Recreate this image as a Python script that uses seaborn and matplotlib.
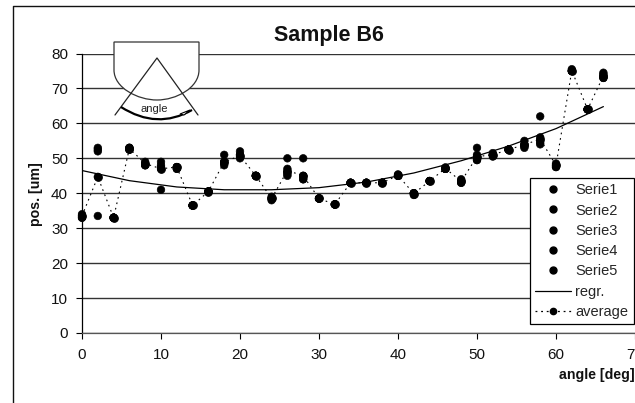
import numpy as np
import pandas as pd
import seaborn as sns
import matplotlib
matplotlib.use("Agg")
import matplotlib.pyplot as plt
from matplotlib.lines import Line2D
from matplotlib.patches import Polygon, PathPatch
from matplotlib.path import Path

sns.set_theme(style="white")
plt.rcParams['font.family'] = ['Liberation Sans', 'DejaVu Sans']

angle = [0,2,4,6,8,10,12,14,16,18,20,22,24,26,28,30,32,34,36,38,40,42,44,46,48,50,52,54,56,58,60,62,64,66]
serie1 = [33,52,33,53,48,41,47,36.5,40.5,48,50,45,38,45,44,38.5,36.8,43,43,43,45,39.5,43.5,47,43,49.5,50.5,52.5,53,62,47.5,75,64,73]
serie2 = [33.5,53,33,52.5,48.5,47,47.5,36.5,40.5,49,51,45,38.5,46,45,38.5,36.8,43,43,43,45,40,43.5,47,43.5,50.5,51,52.5,54,56,48,75.5,64,74]
serie3 = [34,52.5,33,53,49,48,47.5,36.5,40.5,51,52,45,39,47,50,38.5,36.8,43,43,43,45.4,40,43.5,47.4,44,51,51.5,52.5,55,54,48.5,75,64,74.5]
serie4 = [33.5,33.5,33,52.5,48,49,47,36.5,40.5,48.5,50.5,45,38.5,50,44,38.5,36.8,43,43,43,45,40,43.5,47,43.5,53,51,52.5,53.5,54.5,47.5,75,64,73.5]
serie5 = [33,44.7,33,53,48.5,47.5,47.5,36.5,40.5,49,51,45,38.5,45.5,45,38.5,36.8,43,43,43,45,40,43.5,47,43,49.5,51,52.5,54,55,48,75,64,73]
average = [33.5,44.7,33,52.8,48.5,47,47.5,36.5,40.5,49,50.7,45,38.5,46.5,45,38.5,36.8,43,43,43,45.1,39.9,43.5,47.1,43.4,50.5,51,52.5,53.9,55.5,48,75.1,64,73.6]
regr_x = [0,6,12,18,24,30,36,42,48,54,60,66]
regr_y = [46.5,43.6,41.8,41,41,41.6,43.2,45.8,49.3,53.5,58.5,64.8]
series_names = ['Serie1','Serie2','Serie3','Serie4','Serie5']
series_vals = [serie1,serie2,serie3,serie4,serie5]
x_ticks = [0,10,20,30,40,50,60,70]
y_ticks = [0,10,20,30,40,50,60,70,80]

W, H = 635, 403
fig = plt.figure(figsize=(W/100, H/100), dpi=100, facecolor='white')
L, R, T, B = 82, 635, 53.5, 333
ax = fig.add_axes([L/W, 1-B/H, (R-L)/W, (B-T)/H])
ax.set_xlim(0, (R-L)/7.9)
ax.set_ylim(0, 80)
ax.set_facecolor('white')

for s in ['top','right']:
    ax.spines[s].set_visible(False)
for s in ['left','bottom']:
    ax.spines[s].set_linewidth(0.9)
    ax.spines[s].set_color('black')
ax.spines['bottom'].set_color('#555555')
ax.set_axisbelow(True)
ax.yaxis.grid(True, color='#333333', lw=1.0)
ax.set_xticks(x_ticks)
ax.set_yticks(y_ticks)
ax.tick_params(axis='both', direction='out', length=4, width=0.8, labelsize=11, color='black', labelcolor='#111111', pad=6, left=True, bottom=True)
ax.tick_params(axis='x', pad=7)

rows = pd.DataFrame({'angle': angle*5,
                     'pos': sum(series_vals, []),
                     'series': [n for n in series_names for _ in angle]})
sns.lineplot(x=regr_x, y=regr_y, ax=ax, color='black', lw=0.9, estimator=None, sort=False, zorder=3, legend=False)
sns.lineplot(x=angle, y=average, ax=ax, color='black', lw=0.8, ls=(0,(1.5,3.5)), estimator=None, sort=False,
             marker='o', markersize=5.5, markeredgecolor='black', zorder=3, legend=False)
sns.scatterplot(data=rows, x='angle', y='pos', hue='series', palette=['black']*5, s=30, edgecolor='black', ax=ax, legend=False, zorder=4, clip_on=False)
ax.set_xlabel('')
ax.set_ylabel('')

fig.text(329/W, 1-35/H, 'Sample B6', ha='center', va='center', fontsize=15.5, fontweight='bold', color='#111111')
fig.text(36/W, 1-194/H, 'pos. [um]', rotation=90, ha='center', va='center', fontsize=10.2, fontweight='bold', color='#111111')
fig.text(635/W, 1-375/H, 'angle [deg]', ha='right', va='center', fontsize=10.2, fontweight='bold', color='#111111')

# outer border of the chart area
fig.add_artist(Line2D([12.5/W,12.5/W,1],[0,1-5.5/H,1-5.5/H], color='#111111', lw=1.0))

# inset sketch, in figure pixel coordinates
tf = fig.transFigure
def P(x, y):
    return (x/W, 1-y/H)
dome = Path([P(114,42),P(199,42),P(199,70),
             P(199,88),P(176,100),P(157,100),
             P(138,100),P(114,88),P(114,70),P(114,42)],
            [Path.MOVETO,Path.LINETO,Path.LINETO,
             Path.CURVE4,Path.CURVE4,Path.CURVE4,
             Path.CURVE4,Path.CURVE4,Path.CURVE4,Path.CLOSEPOLY])
fig.add_artist(PathPatch(dome, transform=tf, facecolor='white', edgecolor='#333333', lw=0.9, zorder=5))
fig.add_artist(Line2D([115/W,157/W,198/W],[1-115/H,1-58/H,1-115/H], color='#222222', lw=0.9, zorder=6))
arc = Path([P(121,107),P(157,130),P(192,110)],[Path.MOVETO,Path.CURVE3,Path.CURVE3])
fig.add_artist(PathPatch(arc, transform=tf, facecolor='none', edgecolor='black', lw=1.6, zorder=6))
fig.add_artist(Polygon([P(180,114),P(190,110),P(184,115)], closed=True, transform=tf, facecolor='white', edgecolor='black', lw=0.8, zorder=7))
fig.text(154/W, 1-109/H, 'angle', ha='center', va='center', fontsize=8, color='#222222', zorder=7)

handles = [Line2D([],[],ls='none',marker='o',color='black',ms=5,label=n) for n in series_names]
handles.append(Line2D([],[],color='black',lw=0.9,label='regr.'))
handles.append(Line2D([],[],color='black',lw=0.9,ls=(0,(1.5,3)),marker='o',ms=4.5,label='average'))
leg = ax.legend(handles=handles, loc='lower left', bbox_to_anchor=((529.5-L)/(R-L), (333-324)/(B-T)),
                frameon=True, fancybox=False, framealpha=1, edgecolor='black', facecolor='white',
                fontsize=10.5, labelspacing=0.43, borderpad=0.35, handlelength=2.5, handletextpad=0.3, borderaxespad=0)
leg.get_frame().set_linewidth(0.9)
leg.set_zorder(10)

fig.savefig('out.png', dpi=100)
